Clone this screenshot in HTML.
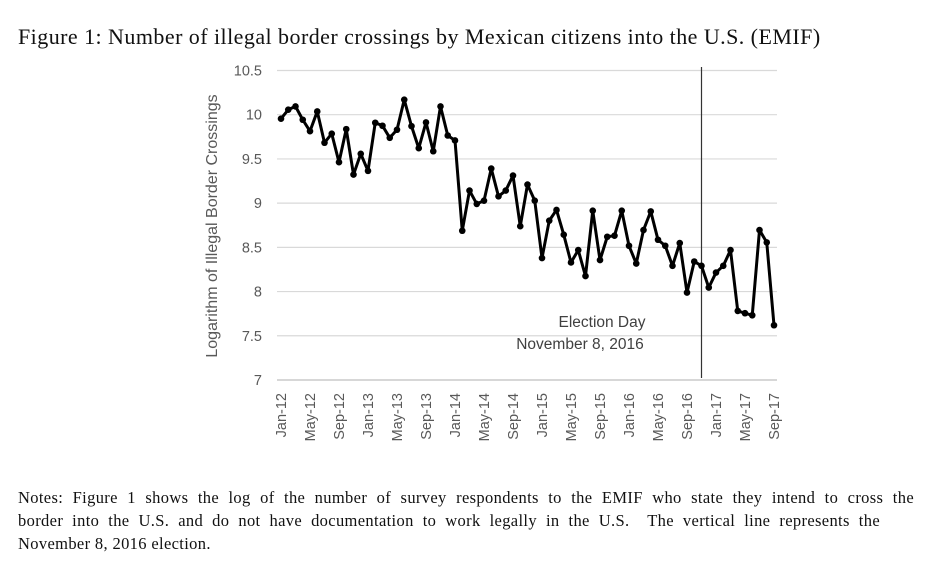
<!DOCTYPE html>
<html><head><meta charset="utf-8"><style>
body{margin:0;background:#fff;width:936px;height:567px;overflow:hidden;position:relative;font-family:"Liberation Serif",serif;}
#title{position:absolute;left:18px;top:24px;font-size:22px;letter-spacing:0.45px;color:#111;white-space:nowrap;}
#notes{position:absolute;left:18px;top:486px;width:896px;font-size:16.5px;letter-spacing:0.35px;line-height:23px;color:#111;}
.ln{text-align:justify;text-align-last:justify;white-space:nowrap;}
.ln.last{text-align-last:left;}
svg{position:absolute;left:0;top:0;}
</style></head><body>
<div id="title">Figure 1: Number of illegal border crossings by Mexican citizens into the U.S. (EMIF)</div>
<svg id="chart" width="936" height="470" font-family="Liberation Sans, sans-serif"></svg>
<div id="notes"><div class="ln">Notes: Figure 1 shows the log of the number of survey respondents to the EMIF who state they intend to cross the</div><div class="ln" style="width:862px">border into the U.S. and do not have documentation to work legally in the U.S.&nbsp; The vertical line represents the</div><div class="ln last">November 8, 2016 election.</div></div>
<script>
const values=[9.955,10.057,10.094,9.943,9.814,10.037,9.683,9.785,9.463,9.837,9.323,9.558,9.365,9.909,9.875,9.739,9.830,10.170,9.871,9.621,9.913,9.587,10.094,9.765,9.709,8.688,9.142,8.991,9.028,9.391,9.077,9.142,9.312,8.739,9.210,9.028,8.379,8.802,8.923,8.643,8.329,8.469,8.175,8.915,8.356,8.620,8.632,8.915,8.518,8.317,8.696,8.907,8.586,8.518,8.291,8.549,7.989,8.340,8.291,8.045,8.215,8.291,8.469,7.781,7.755,7.732,8.696,8.556,7.619];
const yTicks=[7,7.5,8,8.5,9,9.5,10,10.5];
const xLabels=["Jan-12","May-12","Sep-12","Jan-13","May-13","Sep-13","Jan-14","May-14","Sep-14","Jan-15","May-15","Sep-15","Jan-16","May-16","Sep-16","Jan-17","May-17","Sep-17"];
const electionIndex=58;
const NS="http://www.w3.org/2000/svg";
const svg=document.getElementById('chart');
const x=i=>281+i*7.25;
const y=v=>380-(v-7)*88.43;
function mk(t,a){const e=document.createElementNS(NS,t);for(const k in a)e.setAttribute(k,a[k]);svg.appendChild(e);return e;}
yTicks.forEach(v=>{
  const g=mk('line',{x1:277,x2:777,y1:y(v),y2:y(v),stroke:v===7?'#bfbfbf':'#d9d9d9','stroke-width':v===7?1.3:1.2});
  
  
  const t=mk('text',{x:262,y:y(v)+5,'text-anchor':'end','font-size':14.5,fill:'#595959'});
  t.textContent=v;
  
  
});
xLabels.forEach((l,k)=>{
  const xx=x(k*4)+5;
  const t=mk('text',{x:0,y:0,'text-anchor':'end','font-size':14.5,fill:'#595959',transform:`translate(${xx},393) rotate(-90)`});
  t.textContent=l;
  
  
});
const yt=mk('text',{x:0,y:0,'text-anchor':'middle','font-size':16,fill:'#595959',transform:'translate(217,226) rotate(-90)'});
yt.textContent='Logarithm of Illegal Border Crossings';


const vl=mk('line',{x1:x(electionIndex),x2:x(electionIndex),y1:67,y2:378,stroke:'#333','stroke-width':1.2});


const a1=mk('text',{x:602,y:327,'text-anchor':'middle','font-size':15.5,fill:'#404040'});a1.textContent='Election Day';


const a2=mk('text',{x:580,y:349,'text-anchor':'middle','font-size':15.5,fill:'#404040'});a2.textContent='November 8, 2016';


const pl=mk('polyline',{points:values.map((v,i)=>x(i)+','+y(v)).join(' '),fill:'none',stroke:'#000','stroke-width':3,'stroke-linejoin':'round'});


values.forEach((v,i)=>{
  const c=mk('circle',{cx:x(i),cy:y(v),r:3.3,fill:'#000'});
  
  
});
</script>
</body></html>
